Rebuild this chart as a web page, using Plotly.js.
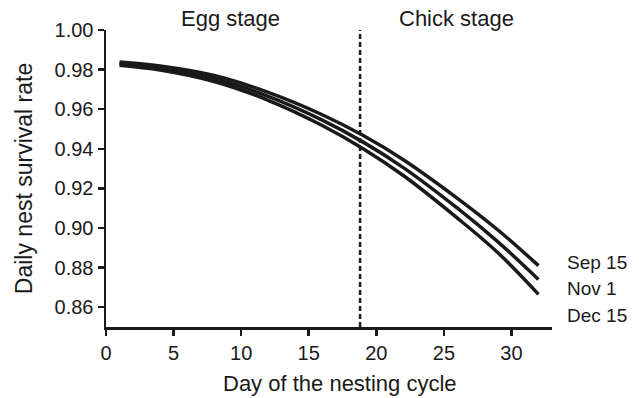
<!DOCTYPE html>
<html>
<head>
<meta charset="utf-8">
<script src="https://cdn.plot.ly/plotly-3.0.1.min.js"></script>
<style>html,body{margin:0;padding:0;background:#fff;}#chart{width:639px;height:398px;}</style>
</head>
<body>
<div id="chart"></div>
<script>
// Day of the nesting cycle
var days = [1, 4, 8, 12, 16, 19, 22, 26, 29, 32];
// Daily nest survival rate by laying date
var sep15 = [0.9838, 0.9818, 0.9770, 0.9685, 0.9572, 0.9468, 0.9345, 0.9150, 0.8990, 0.8810];
var nov1  = [0.9830, 0.9808, 0.9755, 0.9665, 0.9545, 0.9435, 0.9305, 0.9100, 0.8930, 0.8740];
var dec15 = [0.9822, 0.9798, 0.9740, 0.9645, 0.9518, 0.9402, 0.9265, 0.9050, 0.8875, 0.8665];
var seriesNames = ["Sep 15", "Nov 1", "Dec 15"];
var labelY = [0.8827, 0.8694, 0.8557];
var stageBoundary = 18.8;
var stageNames = ["Egg stage", "Chick stage"];
var stageCenters = [9.2, 25.9];
var yTicks = [0.86, 0.88, 0.90, 0.92, 0.94, 0.96, 0.98, 1.00];
var xTicks = [0, 5, 10, 15, 20, 25, 30];
var xTitle = "Day of the nesting cycle";
var yTitle = "Daily nest survival rate";

var lineColor = "#1a1a1a";
var font = "Liberation Sans, Arial, sans-serif";
var allSeries = [sep15, nov1, dec15];
var traces = allSeries.map(function (s, i) {
  return {x: days, y: s, mode: "lines", name: seriesNames[i],
    line: {color: lineColor, width: 3.5, shape: "spline", smoothing: 1.0},
    hoverinfo: "skip", showlegend: false};
});

var annotations = stageNames.map(function (n, i) {
  return {text: n, x: stageCenters[i], xref: "x", y: 1.04, yref: "paper",
    showarrow: false, xanchor: "center", yanchor: "middle",
    font: {family: font, size: 22, color: "#1a1a1a"}};
});
seriesNames.forEach(function (n, i) {
  annotations.push({text: n, x: 1.03, xref: "paper", y: labelY[i], yref: "y",
    showarrow: false, xanchor: "left", yanchor: "middle",
    font: {family: font, size: 19, color: "#1a1a1a"}});
});
annotations.push({text: xTitle, x: 0.5246, xref: "paper", y: -0.19, yref: "paper",
  showarrow: false, xanchor: "center", yanchor: "middle",
  font: {family: font, size: 22, color: "#1a1a1a"}});

var layout = {
  width: 639, height: 398,
  margin: {l: 106, r: 87, t: 30, b: 71},
  paper_bgcolor: "#fff", plot_bgcolor: "#fff",
  font: {family: font, color: "#1a1a1a"},
  xaxis: {range: [0, 33], tickvals: xTicks, ticktext: xTicks.map(String),
    showgrid: false, zeroline: false, showline: true, linecolor: lineColor, linewidth: 2.5,
    ticks: "outside", ticklen: 6, tickwidth: 2.5, tickcolor: lineColor,
    tickfont: {family: font, size: 20, color: "#1a1a1a"}},
  yaxis: {range: [0.85, 1.0], tickvals: yTicks, ticktext: yTicks.map(function (v) { return v.toFixed(2); }),
    showgrid: false, zeroline: false, showline: true, linecolor: lineColor, linewidth: 2.5,
    ticks: "outside", ticklen: 6, tickwidth: 2.5, tickcolor: lineColor,
    tickfont: {family: font, size: 20, color: "#1a1a1a"},
    title: {text: yTitle, font: {family: font, size: 23, color: "#1a1a1a"}, standoff: 16}},
  shapes: [{type: "line", xref: "x", yref: "y", x0: stageBoundary, x1: stageBoundary, y0: 0.85, y1: 1.0,
    line: {color: lineColor, width: 2.5, dash: "5px,3px"}}],
  annotations: annotations
};

Plotly.newPlot("chart", traces, layout, {displayModeBar: false, staticPlot: true});
</script>
</body>
</html>
